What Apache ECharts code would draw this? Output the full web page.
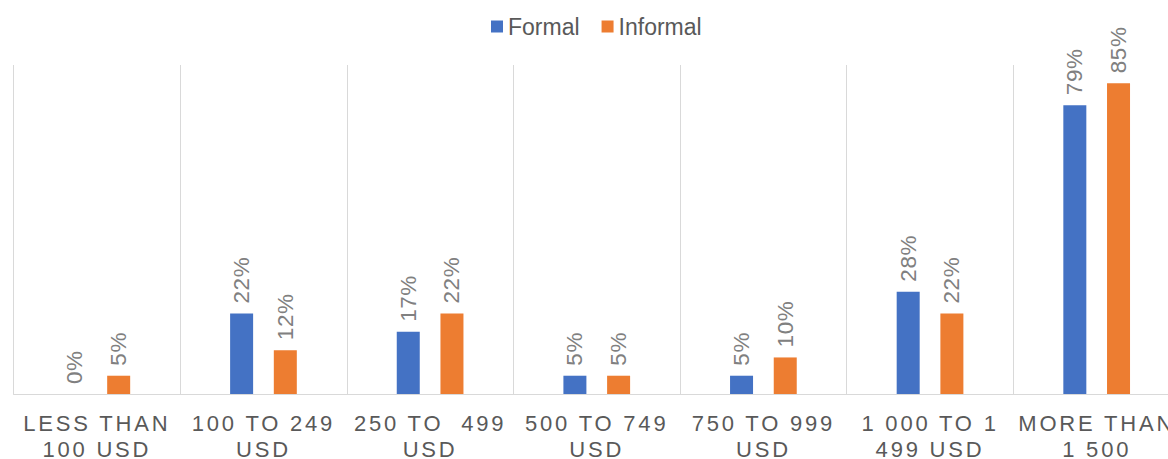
<!DOCTYPE html>
<html>
<head>
<meta charset="utf-8">
<script src="https://cdn.jsdelivr.net/npm/echarts@6/dist/echarts.min.js"></script>
<style>
  html, body { margin: 0; padding: 0; background: #ffffff; overflow: hidden; }
  /* the plot runs slightly past the right edge of the page */
  #chart { width: 1181px; height: 459px; }
  /* tracking for the category labels (22px) and the value labels (22.5px) */
  #chart text[style*="22px"] { letter-spacing: 2.8px; }
  #chart text[style*="22.5px"] { letter-spacing: 0.6px; }
</style>
</head>
<body>
<div id="chart"></div>
<script>
// Monthly income bands
const categories = [
  'LESS THAN\n100 USD',
  '100 TO 249\nUSD',
  '250 TO  499\nUSD',
  '500 TO 749\nUSD',
  '750 TO 999\nUSD',
  '1 000 TO 1\n499 USD',
  'MORE THAN\n1 500'
];
// Share of respondents, in percent
const formalValues = [0, 22, 17, 5, 5, 28, 79];
const informalValues = [5, 12, 22, 5, 10, 22, 85];
const seriesNames = ['Formal', 'Informal'];

const FONT = "'Liberation Sans', Arial, sans-serif";

const valueLabel = {
  show: true,
  position: 'top',
  distance: 10,
  rotate: 90,
  align: 'left',
  verticalAlign: 'middle',
  formatter: '{c}%',
  color: '#808080',
  fontFamily: FONT,
  fontSize: 22.5
};

const chart = echarts.init(document.getElementById('chart'), null, { renderer: 'svg' });

chart.setOption({
  animation: false,
  backgroundColor: '#ffffff',
  legend: {
    data: seriesNames,
    top: 10,
    left: 486,
    itemWidth: 12,
    itemHeight: 12,
    itemGap: 22,
    icon: 'rect',
    textStyle: { color: '#595959', fontFamily: FONT, fontSize: 23 }
  },
  grid: { left: 13.5, top: 65, right: 1, height: 329, outerBoundsMode: 'none' },
  xAxis: {
    type: 'category',
    data: categories,
    axisLine: { show: true, lineStyle: { color: '#d9d9d9', width: 1 } },
    axisTick: { show: false },
    splitLine: { show: true, interval: 0, lineStyle: { color: '#d9d9d9', width: 1 } },
    axisLabel: {
      interval: 0,
      margin: 16,
      color: '#595959',
      fontFamily: FONT,
      fontSize: 22,
      lineHeight: 26
    }
  },
  yAxis: {
    type: 'value',
    min: 0,
    max: 90,
    show: false,
    splitLine: { show: false }
  },
  series: [
    {
      name: seriesNames[0],
      type: 'bar',
      data: formalValues,
      barWidth: 23,
      barGap: '90%',
      itemStyle: { color: '#4472C4' },
      label: valueLabel
    },
    {
      name: seriesNames[1],
      type: 'bar',
      data: informalValues,
      barWidth: 23,
      barGap: '90%',
      itemStyle: { color: '#ED7D31' },
      label: valueLabel
    }
  ]
});
</script>
</body>
</html>
